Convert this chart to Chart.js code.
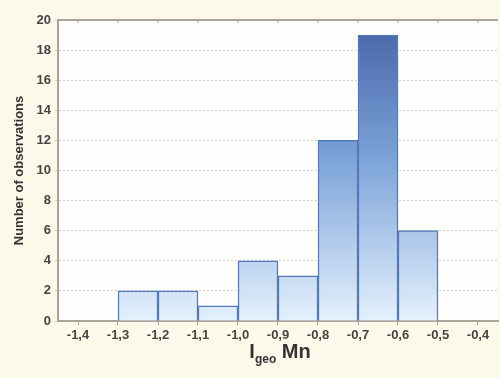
<!DOCTYPE html>
<html>
<head>
<meta charset="utf-8">
<script src="https://cdn.jsdelivr.net/npm/chart.js@4"></script>
<style>
  body { margin: 0; background: #fdf9ea; }
  #wrap { position: relative; width: 500px; height: 378px; }
  #xtitle {
    position: absolute; left: 0; width: 560px; top: 340px; text-align: center;
    font: bold 20px "Liberation Sans", Arial, sans-serif; color: #333;
  }
  #xtitle sub { font-size: 12px; vertical-align: -5px; }
</style>
</head>
<body>
<div id="wrap">
  <canvas id="grafico" width="500" height="378"></canvas>
  <div id="xtitle">I<sub>geo</sub> Mn</div>
</div>
<script>
const binStarts = [-1.3, -1.2, -1.1, -1.0, -0.9, -0.8, -0.7, -0.6];
const counts = [2, 2, 1, 4, 3, 12, 19, 6];
const xTickValues = [-1.4, -1.3, -1.2, -1.1, -1.0, -0.9, -0.8, -0.7, -0.6, -0.5, -0.4];
const binWidth = 0.1;

const puntos = binStarts.map((s, i) => ({ x: s + binWidth / 2, y: counts[i] }));

const fondo = {
  id: 'fondo',
  beforeDraw(chart) {
    const { ctx, chartArea: a } = chart;
    ctx.save();
    ctx.fillStyle = '#fdf9ea';
    ctx.fillRect(0, 0, chart.width, chart.height);
    ctx.fillStyle = '#fefefd';
    ctx.fillRect(a.left, a.top, a.right - a.left, a.bottom - a.top);
    ctx.restore();
  },
  afterDraw(chart) {
    const { ctx, chartArea: a } = chart;
    ctx.save();
    ctx.strokeStyle = '#a8a49c';
    ctx.lineWidth = 2;
    ctx.beginPath();
    ctx.moveTo(a.left, a.top);
    ctx.lineTo(a.right, a.top);
    ctx.stroke();
    // small ticks on the top edge
    ctx.lineWidth = 1;
    const xs = chart.scales.x;
    xTickValues.forEach(v => {
      const px = xs.getPixelForValue(v);
      ctx.beginPath();
      ctx.moveTo(px, a.top);
      ctx.lineTo(px, a.top + 3);
      ctx.stroke();
    });
    ctx.restore();
  }
};

function degradado(context) {
  const chart = context.chart;
  const a = chart.chartArea;
  if (!a) return '#8ab0de';
  const g = chart.ctx.createLinearGradient(0, a.top, 0, a.bottom);
  g.addColorStop(0, '#4563a6');
  g.addColorStop(0.45, '#7aa2d7');
  g.addColorStop(1, '#e4f1fd');
  return g;
}

const tickFont = { family: '"Liberation Sans", Arial, sans-serif', size: 13, weight: 'bold' };

new Chart(document.getElementById('grafico'), {
  type: 'bar',
  data: {
    datasets: [{
      data: puntos,
      backgroundColor: degradado,
      borderColor: '#5677ba',
      borderWidth: 1.5,
      barPercentage: 1,
      categoryPercentage: 1
    }]
  },
  options: {
    responsive: false,
    animation: false,
    layout: { padding: { top: 20, right: 2, left: 12, bottom: 0 } },
    plugins: { legend: { display: false }, tooltip: { enabled: false } },
    scales: {
      x: {
        type: 'linear',
        offset: false,
        min: -1.45,
        max: -0.35,
        afterBuildTicks: scale => { scale.ticks = xTickValues.map(v => ({ value: v })); },
        afterFit: scale => { scale.height = 57; },
        grid: { drawOnChartArea: false, tickLength: 4, color: '#a8a49c', offset: false },
        border: { color: '#a8a49c', width: 2 },
        ticks: {
          color: '#444',
          font: tickFont,
          padding: 3,
          maxRotation: 0,
          autoSkip: false,
          callback: v => v.toFixed(1).replace('.', ',')
        }
      },
      y: {
        min: 0,
        max: 20,
        afterFit: scale => { scale.width = 46; },
        ticks: { stepSize: 2, color: '#444', font: tickFont, padding: 4 },
        grid: { color: '#d4d2cc', tickLength: 3 },
        border: { color: '#a8a49c', width: 2, dash: [2, 2] },
        title: {
          display: true,
          text: 'Number of observations',
          color: '#333',
          font: { family: '"Liberation Sans", Arial, sans-serif', size: 13, weight: 'bold' },
          padding: { top: 0, bottom: 0 }
        }
      }
    }
  },
  plugins: [fondo]
});
</script>
</body>
</html>
